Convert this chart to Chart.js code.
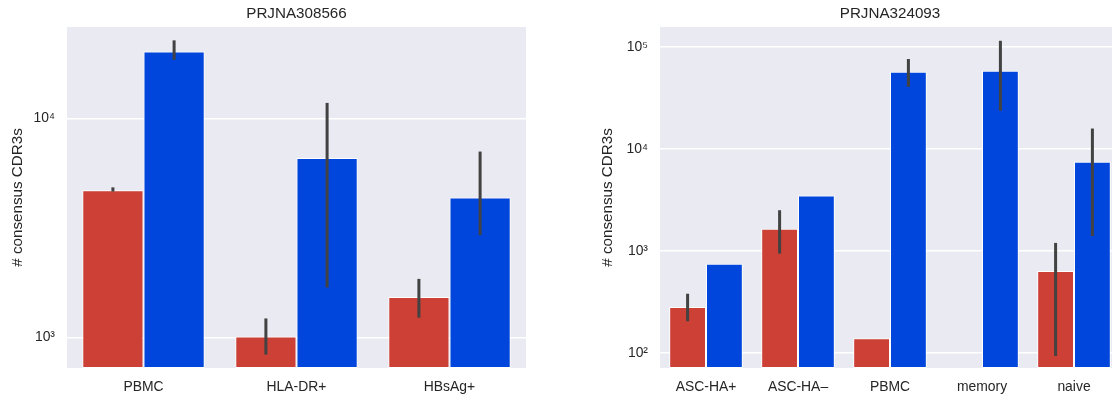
<!DOCTYPE html>
<html>
<head>
<meta charset="utf-8">
<script src="https://cdn.jsdelivr.net/npm/chart.js@4/dist/chart.umd.min.js"></script>
<style>
  html, body { margin: 0; padding: 0; background: #ffffff; overflow: hidden; width: 1112px; height: 401px; }
  .wrap { position: absolute; top: 0; height: 401px; }
  #w1 { left: 0; width: 540px; }
  #w2 { left: 570px; width: 560px; }
</style>
</head>
<body>
<div class="wrap" id="w1"><canvas id="c1"></canvas></div>
<div class="wrap" id="w2"><canvas id="c2"></canvas></div>
<script>
// ---- data ----
const leftTitle = 'PRJNA308566';
const leftCategories = ['PBMC', 'HLA-DR+', 'HBsAg+'];
const leftRed    = [4710, 1010, 1527];
const leftRedLo  = [4640, 834, 1230];
const leftRedHi  = [4850, 1220, 1850];
const leftBlue   = [20270, 6610, 4360];
const leftBlueLo = [18580, 1690, 2930];
const leftBlueHi = [22800, 11800, 7070];
const leftTicks  = [1000, 10000];

const rightTitle = 'PRJNA324093';
const rightCategories = ['ASC-HA+', 'ASC-HA–', 'PBMC', 'memory', 'naive'];
const rightRed    = [282, 1650, 139, null, 634];
const rightRedLo  = [204, 940, null, null, 93];
const rightRedHi  = [380, 2505, null, null, 1197];
const rightBlue   = [746, 3490, 57300, 58600, 7480];
const rightBlueLo = [null, null, 40700, 23700, 1400];
const rightBlueHi = [null, null, 76200, 115000, 15850];
const rightTicks  = [100, 1000, 10000, 100000];

const yTitle = '# consensus CDR3s';
const RED = '#CC4036';
const BLUE = '#0046DC';
const BG = '#EAEAF2';
const TXT = '#262626';
const FONT = "'Liberation Sans', Arial, Helvetica, sans-serif";

const sup = {'0':'⁰','1':'¹','2':'²','3':'³','4':'⁴','5':'⁵','6':'⁶','7':'⁷','8':'⁸','9':'⁹'};
function powLabel(v) {
  const e = Math.round(Math.log10(v));
  return '10' + String(e).split('').map(c => sup[c]).join('');
}

const bgPlugin = {
  id: 'bgPlugin',
  beforeDraw(chart) {
    const {ctx, chartArea: a} = chart;
    ctx.save();
    ctx.fillStyle = BG;
    ctx.fillRect(a.left, a.top, a.right - a.left, a.bottom - a.top);
    ctx.restore();
  }
};

const errPlugin = {
  id: 'errPlugin',
  afterDatasetsDraw(chart) {
    const {ctx} = chart;
    const y = chart.scales.y;
    ctx.save();
    ctx.strokeStyle = '#424242';
    ctx.lineWidth = 3;
    ctx.lineCap = 'butt';
    chart.data.datasets.forEach((ds, di) => {
      const meta = chart.getDatasetMeta(di);
      ds.errLo.forEach((lo, i) => {
        const hi = ds.errHi[i];
        if (lo == null || hi == null) return;
        const bar = meta.data[i];
        if (!bar) return;
        ctx.beginPath();
        ctx.moveTo(bar.x, y.getPixelForValue(lo));
        ctx.lineTo(bar.x, y.getPixelForValue(hi));
        ctx.stroke();
      });
    });
    ctx.restore();
  }
};

function makeChart(id, title, cats, red, redLo, redHi, blue, blueLo, blueHi, ticks, yMin, yMax, axisW, padRight, titlePad) {
  return new Chart(document.getElementById(id), {
    type: 'bar',
    data: {
      labels: cats,
      datasets: [
        { label: 'red', data: red, errLo: redLo, errHi: redHi, backgroundColor: RED,
          borderColor: '#ffffff', borderWidth: 1, borderSkipped: false, xAxisID: 'x', yAxisID: 'y',
          categoryPercentage: 0.8, barPercentage: 1.0 },
        { label: 'blue', data: blue, errLo: blueLo, errHi: blueHi, backgroundColor: BLUE,
          borderColor: '#ffffff', borderWidth: 1, borderSkipped: false, xAxisID: 'x', yAxisID: 'y',
          categoryPercentage: 0.8, barPercentage: 1.0 }
      ]
    },
    options: {
      responsive: true,
      maintainAspectRatio: false,
      animation: false,
      layout: { padding: { left: 0, right: padRight, top: 0, bottom: 0 } },
      plugins: {
        legend: { display: false },
        tooltip: { enabled: false },
        title: { display: false }
      },
      scales: {
        x: {
          position: 'bottom',
          grid: { display: false },
          border: { display: false },
          ticks: { color: TXT, font: { family: FONT, size: 13.9 }, padding: 3 },
          afterFit(s) { s.height = 33; }
        },
        top: {
          type: 'category',
          position: 'top',
          labels: cats,
          grid: { display: false },
          border: { display: false },
          ticks: { display: false },
          title: { display: true, text: title, color: TXT,
                   font: { family: FONT, size: 15.2 }, padding: { top: 4.5, bottom: 0 } },
          afterFit(s) { s.height = 27; }
        },
        y: {
          type: 'logarithmic',
          position: 'left',
          min: yMin, max: yMax,
          grid: { color: '#ffffff', lineWidth: 1.5, drawTicks: false },
          border: { display: false },
          afterBuildTicks(s) { s.ticks = ticks.map(v => ({ value: v })); },
          ticks: { color: TXT, font: { family: FONT, size: 13.9 }, padding: 12,
                   callback: v => powLabel(v) },
          title: { display: true, text: yTitle, color: TXT,
                   font: { family: FONT, size: 15.2 }, padding: { top: titlePad, bottom: 0 } },
          afterFit(s) { s.width = axisW; }
        }
      }
    },
    plugins: [bgPlugin, errPlugin]
  });
}

makeChart('c1', leftTitle, leftCategories, leftRed, leftRedLo, leftRedHi,
          leftBlue, leftBlueLo, leftBlueHi, leftTicks, 724, 26240, 67, 14, 8.5);
makeChart('c2', rightTitle, rightCategories, rightRed, rightRedLo, rightRedHi,
          rightBlue, rightBlueLo, rightBlueHi, rightTicks, 71, 157000, 90, 10, 29.0);
</script>
</body>
</html>
